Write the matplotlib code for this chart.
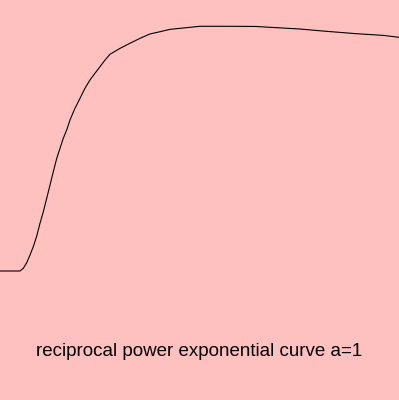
import matplotlib
matplotlib.use("Agg")
import matplotlib.pyplot as plt

# points
xs = [0.0, 0.251, 0.292, 0.335, 0.376, 0.417, 0.460, 0.501, 0.543, 0.585,
      0.627, 0.668, 0.711, 0.752, 0.793, 0.836, 0.877, 0.940, 1.003, 1.065,
      1.128, 1.190, 1.253, 1.316, 1.378, 1.504, 1.629, 1.754, 1.880, 2.005,
      2.130, 2.256, 2.506, 2.882, 3.208, 3.421, 3.759, 4.048, 4.449, 4.812,
      5.0]
ys = [0.0, 0.0, 0.016, 0.049, 0.094, 0.143, 0.206, 0.281, 0.349, 0.428,
      0.507, 0.585, 0.664, 0.723, 0.782, 0.831, 0.890, 0.959, 1.018, 1.077,
      1.126, 1.165, 1.204, 1.243, 1.277, 1.312, 1.342, 1.371, 1.397, 1.410,
      1.424, 1.430, 1.442, 1.442, 1.441, 1.435, 1.426, 1.414, 1.399, 1.388,
      1.377]
title = "reciprocal power exponential curve a=1"

bg = "#ffc0c0"
fig = plt.figure(figsize=(3.99, 4.0), dpi=100, facecolor=bg)
ax = fig.add_axes([0, 0, 1, 1])
ax.set_facecolor(bg)
ax.plot(xs, ys, color="black", lw=0.8)
ax.set_xlim(0, 5)
# pixel row 271 is y=0, row 26 is the peak
ax.set_ylim(-129 / 169.7, 271 / 169.7)
ax.axis("off")

fig.text(0.5, 1 - 352 / 400, title, ha="center", va="center",
         fontsize=13.5, family="Liberation Sans", color="black")

fig.savefig("out.png", dpi=100, facecolor=bg)
